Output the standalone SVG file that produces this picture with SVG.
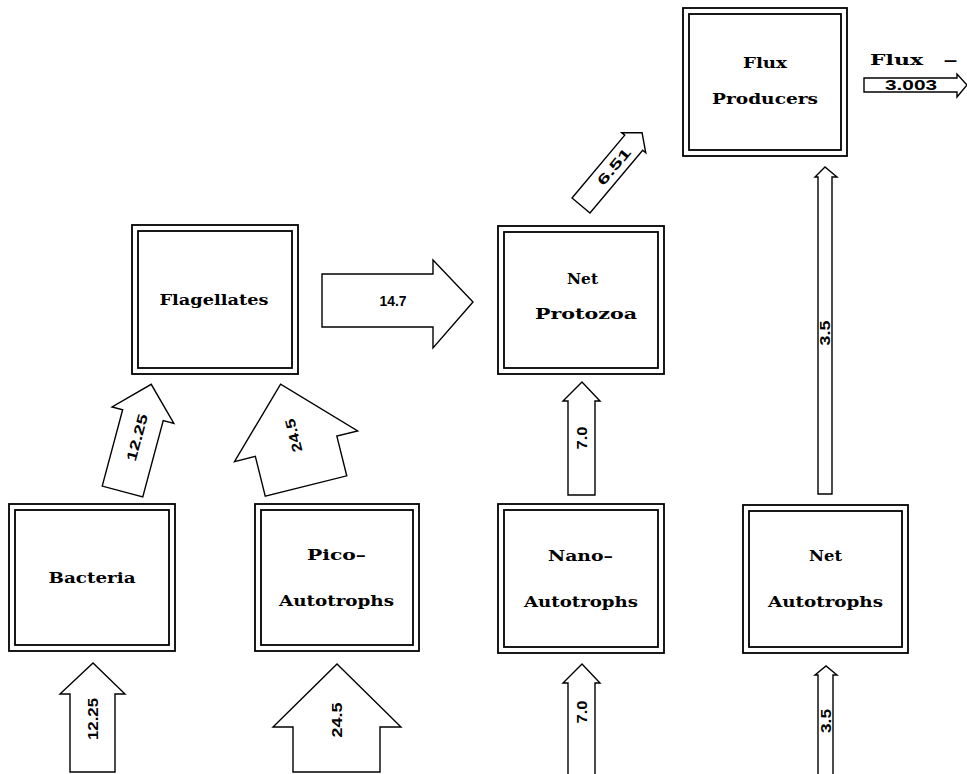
<svg xmlns="http://www.w3.org/2000/svg" width="967" height="774" viewBox="0 0 967 774">
<style>
.o{fill:none;stroke:#000;stroke-width:1.8}
.i{fill:none;stroke:#000;stroke-width:1.8}
.a{fill:#fff;stroke:#000;stroke-width:1.4;stroke-linejoin:miter}
.t{font-family:"DejaVu Serif","Liberation Serif",serif;font-weight:bold;font-size:14px;text-anchor:middle;dominant-baseline:central;fill:#000}
.n{font-family:"Liberation Sans",Arial,sans-serif;font-weight:bold;font-size:14px;text-anchor:middle;dominant-baseline:central;fill:#000}
</style>
<rect width="967" height="774" fill="#fff"/>
<g id="connectors">
  <g id="a-bact-in">
    <polygon class="a" points="70,772 70,694 60,694 93,663 125,694 115,694 115,772"/>
    <text class="n" transform="translate(93,719) rotate(-90)" textLength="42" lengthAdjust="spacingAndGlyphs">12.25</text>
  </g>
  <g id="a-pico-in">
    <polygon class="a" points="293,772 293,727 273,727 337,664 401,727 380,727 380,772"/>
    <text class="n" transform="translate(337,720) rotate(-90)" textLength="35" lengthAdjust="spacingAndGlyphs">24.5</text>
  </g>
  <g id="a-nano-in">
    <polygon class="a" points="568,775 568,683 563,683 582,664 600,683 595,683 595,775"/>
    <text class="n" transform="translate(582,712) rotate(-90)" textLength="23" lengthAdjust="spacingAndGlyphs">7.0</text>
  </g>
  <g id="a-neta-in">
    <polygon class="a" points="818,778 818,675 815,675 826,666 837,675 833,675 833,778"/>
    <text class="n" transform="translate(826,721) rotate(-90)" textLength="24" lengthAdjust="spacingAndGlyphs">3.5</text>
  </g>
  <g id="a-nano-prot">
    <polygon class="a" points="568,495 568,401 563,401 582,382 600,401 595,401 595,495"/>
    <text class="n" transform="translate(582,438) rotate(-90)" textLength="23" lengthAdjust="spacingAndGlyphs">7.0</text>
  </g>
  <g id="a-neta-flux">
    <polygon class="a" points="818,494 818,177 815,177 825,167 837,177 832,177 832,494"/>
    <text class="n" transform="translate(825,333) rotate(-90)" textLength="25" lengthAdjust="spacingAndGlyphs">3.5</text>
  </g>
  <g id="a-bact-flag" transform="translate(122.5,491.5) rotate(-75)">
    <polygon class="a" points="0,-21 79,-21 79,-32 111,0 79,32 79,21 0,21"/>
    <text class="n" x="56" y="0" textLength="48" lengthAdjust="spacingAndGlyphs">12.25</text>
  </g>
  <g id="a-pico-flag" transform="translate(306,486) rotate(-104)">
    <polygon class="a" points="0,-42 41,-42 41,-63.5 105,0 41,63.5 41,42 0,42"/>
    <text class="n" x="52" y="0" textLength="34" lengthAdjust="spacingAndGlyphs">24.5</text>
  </g>
  <g id="a-flag-prot">
    <polygon class="a" points="322,274 433,274 433,260 473,302 433,348 433,327 322,327"/>
    <text class="n" x="393" y="301" font-size="11" textLength="27" lengthAdjust="spacingAndGlyphs">14.7</text>
  </g>
  <g id="a-prot-out" transform="translate(581,205.5) rotate(-50)">
    <polygon class="a" points="0,-11.7 82,-11.7 82,-15.7 95,0 82,15.7 82,11.7 0,11.7"/>
    <text class="n" x="51" y="0" font-size="13" textLength="44" lengthAdjust="spacingAndGlyphs">6.51</text>
  </g>
  <g id="a-flux-out">
    <polygon class="a" points="864,78 957,78 957,74 967,85 957,97 957,92 864,92"/>
    <text class="n" x="911" y="85" font-size="10" textLength="52" lengthAdjust="spacingAndGlyphs">3.003</text>
  </g>
</g>
<g id="flux-producers">
  <rect class="o" x="683" y="8" width="164" height="148"/>
  <rect class="i" x="689" y="14" width="152" height="136"/>
  <text class="t" x="765" y="63" textLength="44" lengthAdjust="spacingAndGlyphs">Flux</text>
  <text class="t" x="765" y="99" textLength="106" lengthAdjust="spacingAndGlyphs">Producers</text>
</g>
<g id="flux-label">
  <text class="t" font-size="16" style="text-anchor:start"><tspan x="870" y="60" textLength="53" lengthAdjust="spacingAndGlyphs">Flux</tspan><tspan x="943" y="60" textLength="15" lengthAdjust="spacingAndGlyphs">–</tspan></text>
</g>
<g id="flagellates">
  <rect class="o" x="132" y="225" width="166" height="149"/>
  <rect class="i" x="138" y="231" width="154" height="137"/>
  <text class="t" x="214" y="300" textLength="109" lengthAdjust="spacingAndGlyphs">Flagellates</text>
</g>
<g id="net-protozoa">
  <rect class="o" x="498" y="226" width="166" height="148"/>
  <rect class="i" x="504" y="232" width="154" height="136"/>
  <text class="t" x="582.5" y="279" textLength="31" lengthAdjust="spacingAndGlyphs">Net</text>
  <text class="t" x="586" y="314" textLength="102" lengthAdjust="spacingAndGlyphs">Protozoa</text>
</g>
<g id="bacteria">
  <rect class="o" x="9" y="504" width="166" height="147"/>
  <rect class="i" x="15" y="510" width="154" height="135"/>
  <text class="t" x="92" y="578" textLength="87" lengthAdjust="spacingAndGlyphs">Bacteria</text>
</g>
<g id="pico-autotrophs">
  <rect class="o" x="255" y="504" width="164" height="147"/>
  <rect class="i" x="261" y="510" width="152" height="135"/>
  <text class="t" x="336.5" y="555" textLength="59" lengthAdjust="spacingAndGlyphs">Pico–</text>
  <text class="t" x="336.5" y="601" textLength="115" lengthAdjust="spacingAndGlyphs">Autotrophs</text>
</g>
<g id="nano-autotrophs">
  <rect class="o" x="498" y="504" width="166" height="149"/>
  <rect class="i" x="504" y="510" width="154" height="137"/>
  <text class="t" x="580.5" y="556" textLength="65" lengthAdjust="spacingAndGlyphs">Nano–</text>
  <text class="t" x="581" y="602" textLength="114" lengthAdjust="spacingAndGlyphs">Autotrophs</text>
</g>
<g id="net-autotrophs">
  <rect class="o" x="743" y="505" width="165" height="148"/>
  <rect class="i" x="749" y="511" width="153" height="136"/>
  <text class="t" x="825.5" y="556" textLength="33" lengthAdjust="spacingAndGlyphs">Net</text>
  <text class="t" x="825.5" y="602" textLength="115" lengthAdjust="spacingAndGlyphs">Autotrophs</text>
</g>
</svg>
